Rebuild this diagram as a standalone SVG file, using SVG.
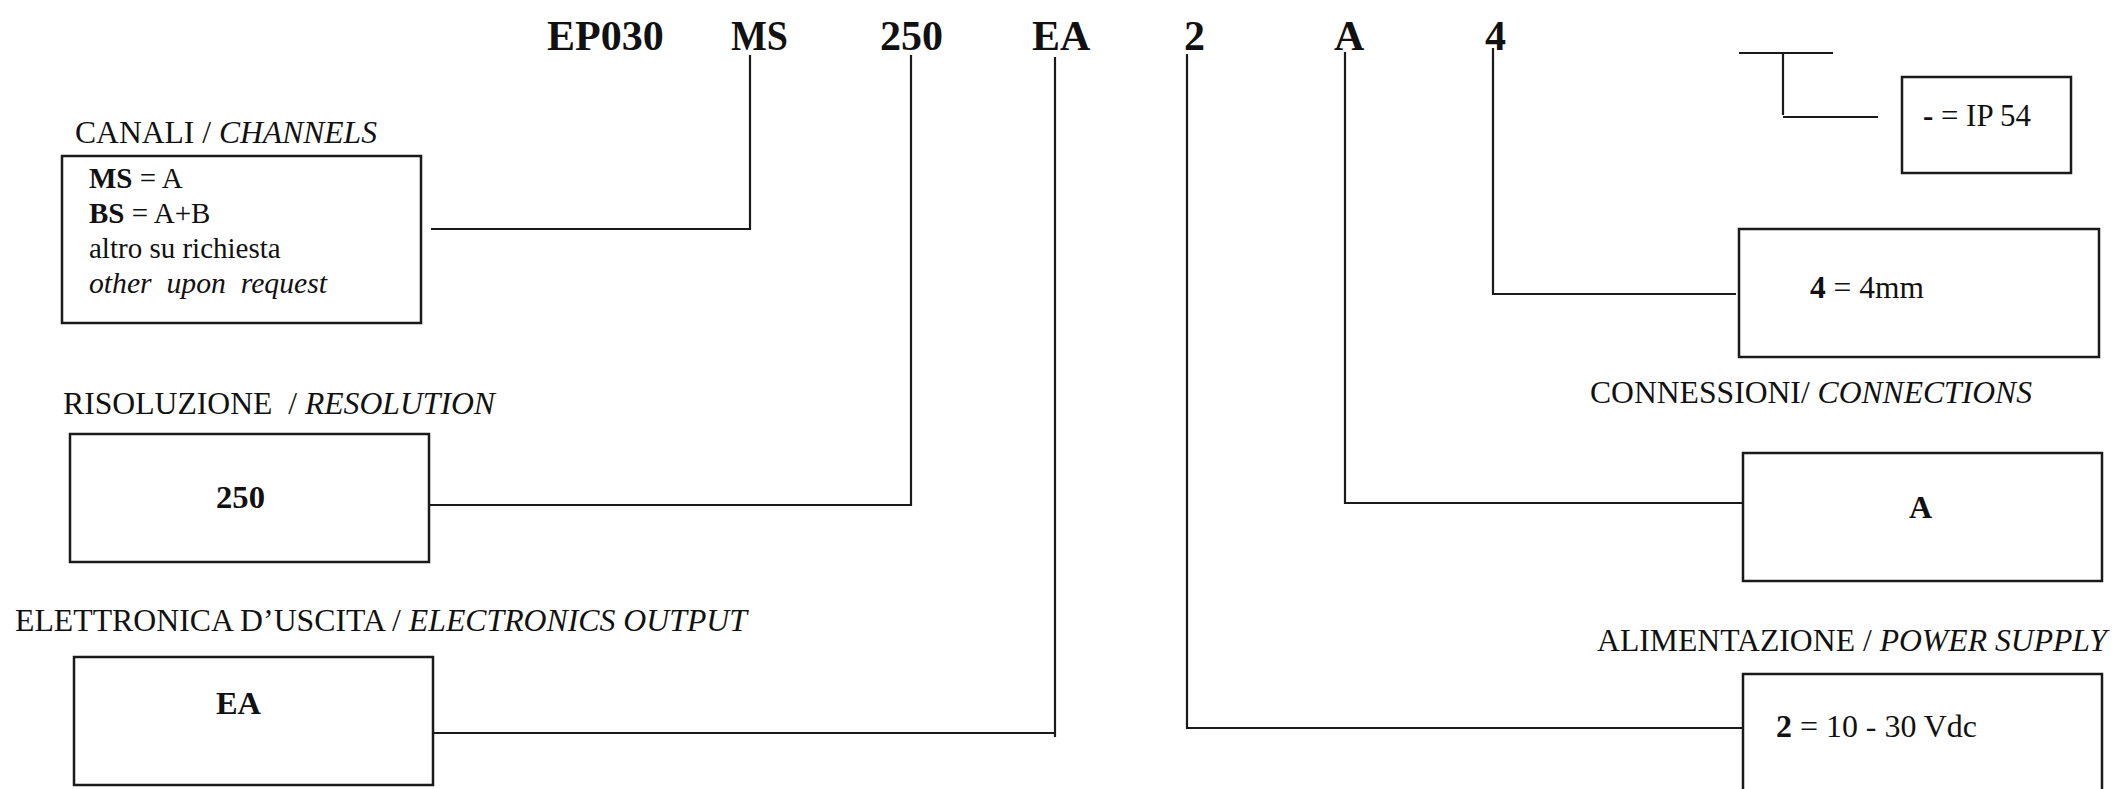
<svg xmlns="http://www.w3.org/2000/svg" width="2115" height="789" viewBox="0 0 2115 789">
<style>
.bg{fill:#fff}
.box{fill:none;stroke:#1a1a1a;stroke-width:2.5}
.ln{fill:none;stroke:#1a1a1a;stroke-width:2.2}
.t{font-family:"Liberation Serif","Times New Roman",serif;fill:#111}
.code{font-size:42px;font-weight:bold}
.lab{font-size:32px}
.in{font-size:29px}
.v{font-size:32px}
.b{font-weight:bold}
.i{font-style:italic}
</style>
<rect class="bg" x="0" y="0" width="2115" height="789"/>
<g id="code">
<text class="t code" x="547" y="50">EP030</text>
<text class="t code" x="731" y="50" textLength="57" lengthAdjust="spacingAndGlyphs">MS</text>
<text class="t code" x="880" y="50">250</text>
<text class="t code" x="1032" y="50">EA</text>
<text class="t code" x="1184" y="50">2</text>
<text class="t code" x="1334" y="50">A</text>
<text class="t code" x="1485" y="50">4</text>
</g>
<g id="connectors">
<path class="ln" d="M750,55 V229 H431"/>
<path class="ln" d="M911,55 V505 H429"/>
<path class="ln" d="M1055,57 V737 M433,733 H1055"/>
<path class="ln" d="M1187,54 V728 H1743"/>
<path class="ln" d="M1345,52 V503 H1743"/>
<path class="ln" d="M1493,48 V294 H1736"/>
<path class="ln" d="M1739,53 H1833 M1783,53 V115 M1783,117 H1878"/>
</g>
<g id="channels">
<text class="t lab" x="75" y="143" textLength="302" lengthAdjust="spacingAndGlyphs">CANALI / <tspan class="i">CHANNELS</tspan></text>
<rect class="box" x="62" y="156" width="359" height="167"/>
<text class="t in" x="89" y="188"><tspan class="b">MS</tspan> = A</text>
<text class="t in" x="89" y="223"><tspan class="b">BS</tspan> = A+B</text>
<text class="t in" x="89" y="258">altro su richiesta</text>
<text class="t in i" x="89" y="293" xml:space="preserve" textLength="238" lengthAdjust="spacingAndGlyphs">other  upon  request</text>
</g>
<g id="resolution">
<text class="t lab" x="63" y="414" textLength="432" lengthAdjust="spacingAndGlyphs" xml:space="preserve">RISOLUZIONE  / <tspan class="i">RESOLUTION</tspan></text>
<rect class="box" x="70" y="434" width="359" height="128"/>
<text class="t v b" x="216" y="508" textLength="49" lengthAdjust="spacingAndGlyphs">250</text>
</g>
<g id="electronics">
<text class="t lab" x="15" y="631" textLength="732" lengthAdjust="spacingAndGlyphs">ELETTRONICA D’USCITA / <tspan class="i">ELECTRONICS OUTPUT</tspan></text>
<rect class="box" x="74" y="657" width="359" height="128"/>
<text class="t v b" x="216" y="714" textLength="45" lengthAdjust="spacingAndGlyphs">EA</text>
</g>
<g id="protection">
<rect class="box" x="1902" y="77" width="169" height="96"/>
<text class="t v" x="1923" y="126" textLength="108" lengthAdjust="spacingAndGlyphs"><tspan class="b">-</tspan> = IP 54</text>
</g>
<g id="size">
<rect class="box" x="1739" y="229" width="360" height="128"/>
<text class="t v" x="1810" y="298" textLength="114" lengthAdjust="spacingAndGlyphs"><tspan class="b">4</tspan> = 4mm</text>
</g>
<g id="connections">
<text class="t lab" x="1590" y="403" textLength="442" lengthAdjust="spacingAndGlyphs">CONNESSIONI/ <tspan class="i">CONNECTIONS</tspan></text>
<rect class="box" x="1743" y="453" width="359" height="128"/>
<text class="t v b" x="1909" y="518">A</text>
</g>
<g id="power">
<text class="t lab" x="1597" y="651" textLength="510" lengthAdjust="spacingAndGlyphs">ALIMENTAZIONE / <tspan class="i">POWER SUPPLY</tspan></text>
<rect class="box" x="1743" y="674" width="359" height="120"/>
<text class="t v" x="1776" y="737" textLength="201" lengthAdjust="spacingAndGlyphs"><tspan class="b">2</tspan> = 10 - 30 Vdc</text>
</g>
</svg>
